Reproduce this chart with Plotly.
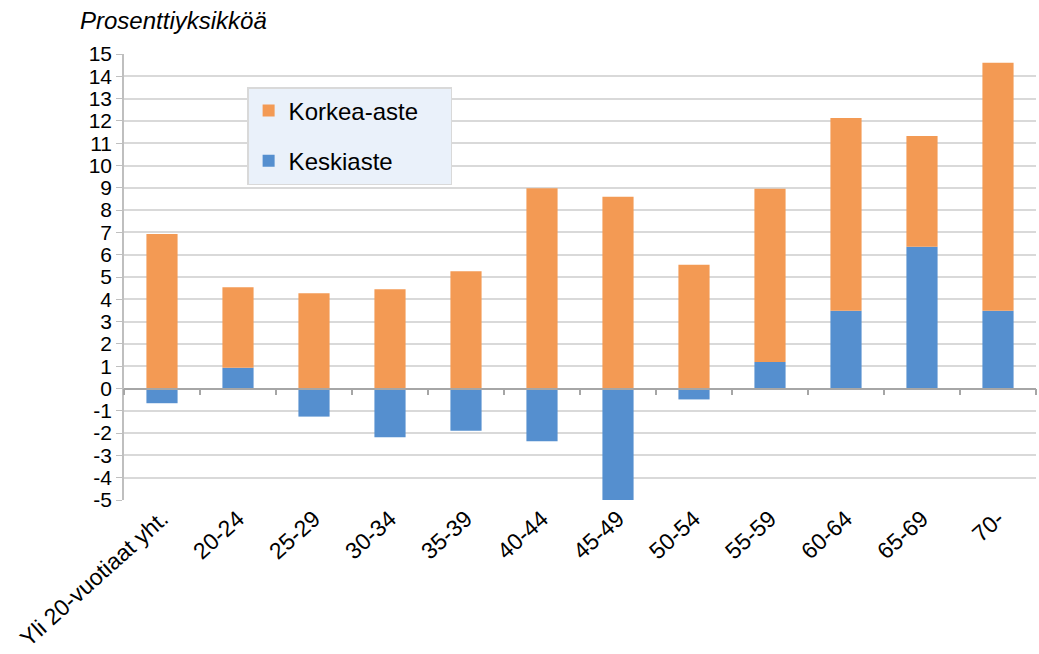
import plotly.graph_objects as go

categories = ["Yli 20-vuotiaat yht.", "20-24", "25-29", "30-34", "35-39", "40-44",
              "45-49", "50-54", "55-59", "60-64", "65-69", "70-"]
keskiaste = [-0.66, 0.93, -1.26, -2.19, -1.89, -2.37, -5.2, -0.49, 1.19, 3.49, 6.36, 3.49]
korkea_aste = [6.93, 3.61, 4.27, 4.45, 5.26, 8.98, 8.60, 5.55, 7.77, 8.64, 4.96, 11.12]
y_ticks = list(range(-5, 16))

FONT = "Liberation Sans, Arial, sans-serif"
BLUE = "#558FCF"
ORANGE = "#F39A54"
PAD = "\u00a0" * 4

fig = go.Figure()
fig.add_trace(go.Bar(x=categories, y=keskiaste, name="Keskiaste", marker_color=BLUE,
                     marker_line_width=0, legendgroup="b", legendrank=2))
fig.add_trace(go.Bar(x=categories, y=korkea_aste, name="Korkea-aste" + PAD, marker_color=ORANGE,
                     marker_line_width=0, legendgroup="a", legendrank=1))
# helper trace for category axis at zero (tick marks between categories)
fig.add_trace(go.Scatter(x=categories, y=[0] * len(categories), xaxis="x2", mode="lines",
                         line=dict(width=0), showlegend=False, hoverinfo="skip"))

fig.update_layout(
    width=1039, height=654,
    margin=dict(l=124, r=3, t=54, b=154),
    paper_bgcolor="white", plot_bgcolor="white",
    barmode="relative", bargap=0.59,
    font=dict(family=FONT, size=21, color="black"),
    xaxis=dict(type="category", categoryorder="array", categoryarray=categories,
               tickangle=-42, tickfont=dict(size=23), showgrid=False, ticks="",
               showline=False, zeroline=False, range=[-0.5, len(categories) - 0.5],
               automargin=False),
    xaxis2=dict(type="category", categoryorder="array", categoryarray=categories,
                overlaying="x", anchor="free", position=0.25, side="bottom",
                showticklabels=False, ticks="outside", tickson="boundaries", ticklen=6,
                tickcolor="#A6A6A6", tickwidth=1.5, showline=True, linecolor="#A6A6A6",
                linewidth=1.5, showgrid=False, zeroline=False,
                range=[-0.5, len(categories) - 0.5]),
    yaxis=dict(range=[-5, 15], tickvals=y_ticks, ticktext=[str(v) for v in y_ticks],
               showgrid=True, gridcolor="#D9D9D9", gridwidth=1.5, zeroline=False,
               showline=True, linecolor="#BFBFBF", linewidth=1.5, ticks="outside",
               ticklen=6, tickcolor="#BFBFBF", tickfont=dict(size=21), automargin=False),
    legend=dict(x=0.135, y=0.926, xanchor="left", yanchor="top",
                bgcolor="#EAF1FA", bordercolor="#D9D9D9", borderwidth=1.5,
                traceorder="grouped", tracegroupgap=16,
                font=dict(size=24), itemwidth=30),
    showlegend=True,
    annotations=[dict(text="<i>Prosenttiyksikköä</i>", xref="paper", yref="paper",
                      x=-0.0504, y=1.076, xanchor="left", yanchor="middle",
                      showarrow=False, font=dict(size=24, family=FONT))],
)

fig.write_html("out.html", config={"displayModeBar": False},
               post_script="document.body.style.margin='0';document.body.style.overflow='hidden';")
